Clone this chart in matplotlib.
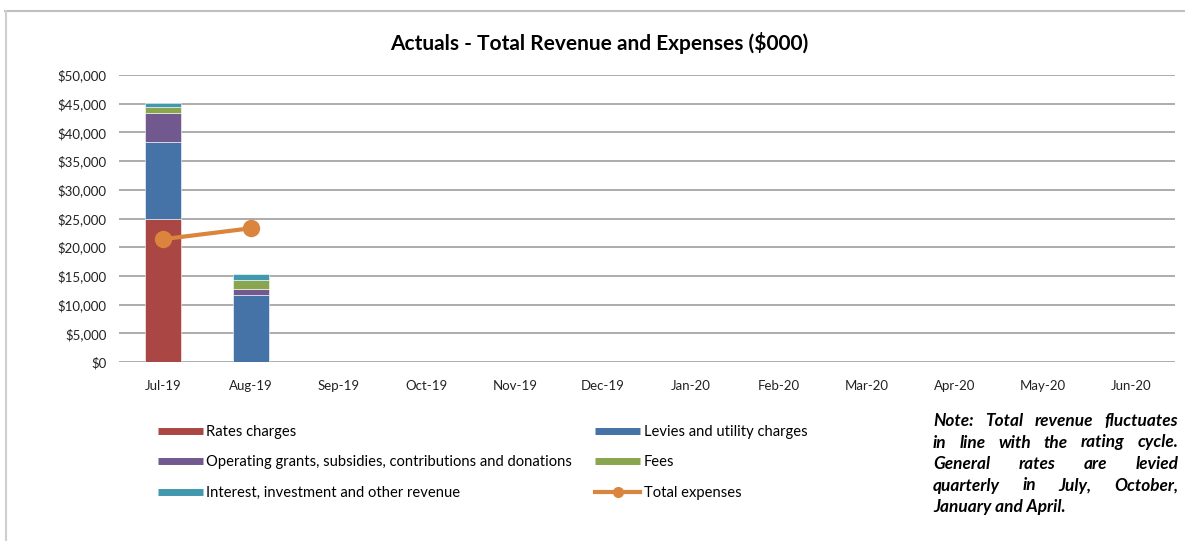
import numpy as np
import matplotlib
matplotlib.use('Agg')
import matplotlib.pyplot as plt
from matplotlib.lines import Line2D

plt.rcParams['font.family'] = ['Lato', 'DejaVu Sans']

months = ['Jul-19', 'Aug-19', 'Sep-19', 'Oct-19', 'Nov-19', 'Dec-19',
          'Jan-20', 'Feb-20', 'Mar-20', 'Apr-20', 'May-20', 'Jun-20']

# values in $000, only two months reported
rates = [25000, 0]
levies = [13400, 11600]
grants = [5000, 1100]
fees = [1000, 1500]
interest = [700, 1100]
expenses = [21400, 23300]

series = [
    ('Rates charges', rates, '#AA4643'),
    ('Levies and utility charges', levies, '#4572A7'),
    ('Operating grants, subsidies, contributions and donations', grants, '#71588F'),
    ('Fees', fees, '#89A54E'),
    ('Interest, investment and other revenue', interest, '#4198AF'),
]
line_color = '#DB843D'

fig = plt.figure(figsize=(11.85, 5.41), dpi=100)
ax = fig.add_axes([119 / 1185, 1 - 362 / 541, 1056 / 1185, 287 / 541])

x = np.arange(len(months))
bottom = np.zeros(len(rates))
handles = {}
for name, vals, col in series:
    vals = np.array(vals, dtype=float)
    ax.bar(x[:len(vals)], vals, 0.4, bottom=bottom, color=col,
           edgecolor='white', linewidth=0.4, zorder=3)
    bottom += vals
    handles[name] = Line2D([], [], color=col, lw=5, solid_capstyle='butt')

ax.plot(x[:len(expenses)], expenses, color=line_color, lw=3,
        marker='o', markersize=11.5, zorder=4)
handles['Total expenses'] = Line2D([], [], color=line_color, lw=3,
                                   marker='o', markersize=7)

ax.set_xlim(-0.5, len(months) - 0.5)
ax.set_ylim(0, 50000)
ax.set_yticks(np.arange(0, 50001, 5000))
ax.set_yticklabels(['${:,}'.format(v) for v in range(0, 50001, 5000)])
ax.set_xticks(x)
ax.set_xticklabels(months)
ax.tick_params(length=0, labelsize=9.5, colors='#222222')
ax.tick_params(axis='x', pad=13)
ax.tick_params(axis='y', pad=9)
ax.yaxis.grid(True, color='#a6a6a6', lw=1.3, zorder=0)
for s in ax.spines.values():
    s.set_visible(False)

fig.text(0.506, 1 - 43 / 541, 'Actuals - Total Revenue and Expenses ($000)',
         ha='center', va='center', fontsize=15, fontweight='bold')

order = ['Rates charges',
         'Operating grants, subsidies, contributions and donations',
         'Interest, investment and other revenue',
         'Levies and utility charges', 'Fees', 'Total expenses']
fig.legend([handles[k] for k in order], order, ncol=2, frameon=False,
           loc='upper left', bbox_to_anchor=(152 / 1185, 1 - 419 / 541),
           fontsize=10.6, handlelength=3.05, handletextpad=0.25,
           columnspacing=1.55, labelspacing=1.12, borderaxespad=0)

# justified note text
note_lines = ['Note: Total revenue fluctuates',
              'in line with the rating cycle.',
              'General rates are levied',
              'quarterly in July, October,',
              'January and April.']
x0, x1 = 933, 1178
fig.canvas.draw()
r = fig.canvas.get_renderer()
for i, line in enumerate(note_lines):
    yy = 1 - (421 + i * 21.5) / 541
    words = line.split()
    if i == len(note_lines) - 1:
        fig.text(x0 / 1185, yy, line, fontsize=12.4, fontweight='bold',
                 style='italic', va='center', ha='left')
        continue
    txts = [fig.text(0, yy, w, fontsize=12.4, fontweight='bold',
                     style='italic', va='center', ha='left') for w in words]
    widths = [t.get_window_extent(r).width for t in txts]
    gap = (x1 - x0 - sum(widths)) / (len(words) - 1)
    pos = x0
    for t, w in zip(txts, widths):
        t.set_x(pos / 1185)
        pos += w + gap

# outer frame lines
fig.add_artist(Line2D([5 / 1185, 1], [1 - 11 / 541] * 2, color='#bfbfbf', lw=1.5))
fig.add_artist(Line2D([5.5 / 1185] * 2, [0, 1 - 11 / 541], color='#cfcfcf', lw=1.5))

fig.savefig('out.png', dpi=100)
